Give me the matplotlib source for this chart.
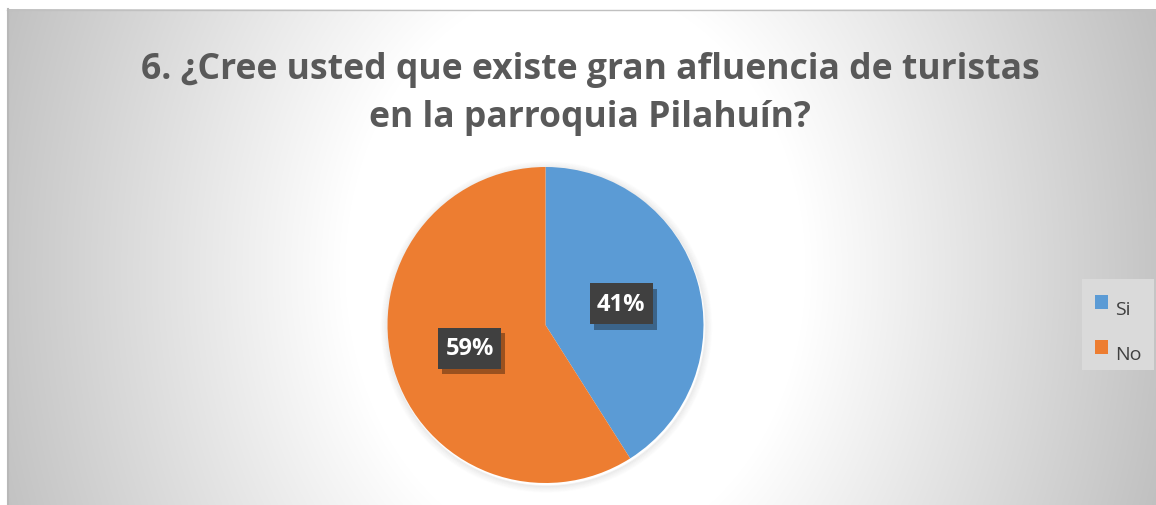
import numpy as np
import matplotlib.pyplot as plt
import matplotlib.patheffects as pe
from matplotlib.patches import Rectangle, Circle

labels = ['Si', 'No']
values = [41, 59]
colors = ['#5B9BD5', '#ED7D31']
title_lines = ['6. ¿Cree usted que existe gran afluencia de turistas',
               'en la parroquia Pilahuín?']

W, H = 1156, 505
fig = plt.figure(figsize=(W / 100, H / 100), dpi=100)

# background: white page with a framed chart area having a radial grey gradient
bg = fig.add_axes([0, 0, 1, 1], zorder=0)
bg.set_xlim(0, W)
bg.set_ylim(H, 0)
bg.axis('off')
yy, xx = np.mgrid[0:H, 0:W]
d = np.sqrt((xx - 575.0) ** 2 + ((yy - 270.0) * 0.8) ** 2)
shade = np.clip(1.0 - 0.22 * np.clip(d - 230, 0, None) / 340.0, 0.74, 1.0)
img = np.dstack([shade, shade, shade])
img[:9, :] = 1.0
img[:, :7] = 1.0
bg.imshow(img, extent=(0, W, H, 0), aspect='auto', interpolation='bilinear')
bg.plot([7, W], [9.5, 9.5], color='#c0c0c0', lw=1)
bg.plot([7.5, 7.5], [9, H], color='#b8b8b8', lw=1.5)

for txt, yb in zip(title_lines, [79, 127]):
    bg.text(590, yb, txt, ha='center', va='baseline', fontsize=25.6, fontweight='bold',
            color='#595959', family='Open Sans')

# legend
bg.add_patch(Rectangle((1082, 279), 72, 91, facecolor='#dadada', edgecolor='none'))
for i, (lab, col) in enumerate(zip(labels, colors)):
    y0 = 295 + i * 45
    bg.add_patch(Rectangle((1095, y0), 13, 14, facecolor=col, edgecolor='none'))
    bg.text(1115, y0 + 20, lab, ha='left', va='baseline', fontsize=14, color='#404040',
            family='Open Sans')

# pie, with a faint halo behind it
cx, cy, r = 545.5, 325, 158
for k in range(1, 8):
    bg.add_patch(Circle((cx + 1, cy + 2), r + k, facecolor='none', edgecolor='black',
                        lw=1.2, alpha=0.05 * (8 - k) / 7))
ax = fig.add_axes([(cx - r) / W, (H - cy - r) / H, 2 * r / W, 2 * r / H], zorder=1)
wedges, texts, autotexts = ax.pie(values, colors=colors, startangle=90, counterclock=False,
                                  autopct='%1.0f%%', pctdistance=0.5,
                                  wedgeprops=dict(linewidth=0))
ax.set_xlim(-1, 1)
ax.set_ylim(-1, 1)
ax.axis('off')

# data labels: dark boxes with soft shadow, on a layer above the pie
top = fig.add_axes([0, 0, 1, 1], zorder=2)
top.set_xlim(0, W)
top.set_ylim(H, 0)
top.axis('off')
for t in autotexts:
    x, y = t.get_position()
    px, py = cx + x * r, cy - y * r + 1
    t.set_visible(False)
    box = Rectangle((px - 31.5, py - 20.5), 63, 41, facecolor='#404040', edgecolor='none')
    box.set_path_effects([pe.withSimplePatchShadow(offset=(3, -4), alpha=0.35,
                                                   shadow_rgbFace='black')])
    top.add_patch(box)
    top.text(px, py + 1, t.get_text(), ha='center', va='center', color='white', fontsize=17,
             fontweight='bold', family='Open Sans')

fig.savefig('out.png', dpi=100)
